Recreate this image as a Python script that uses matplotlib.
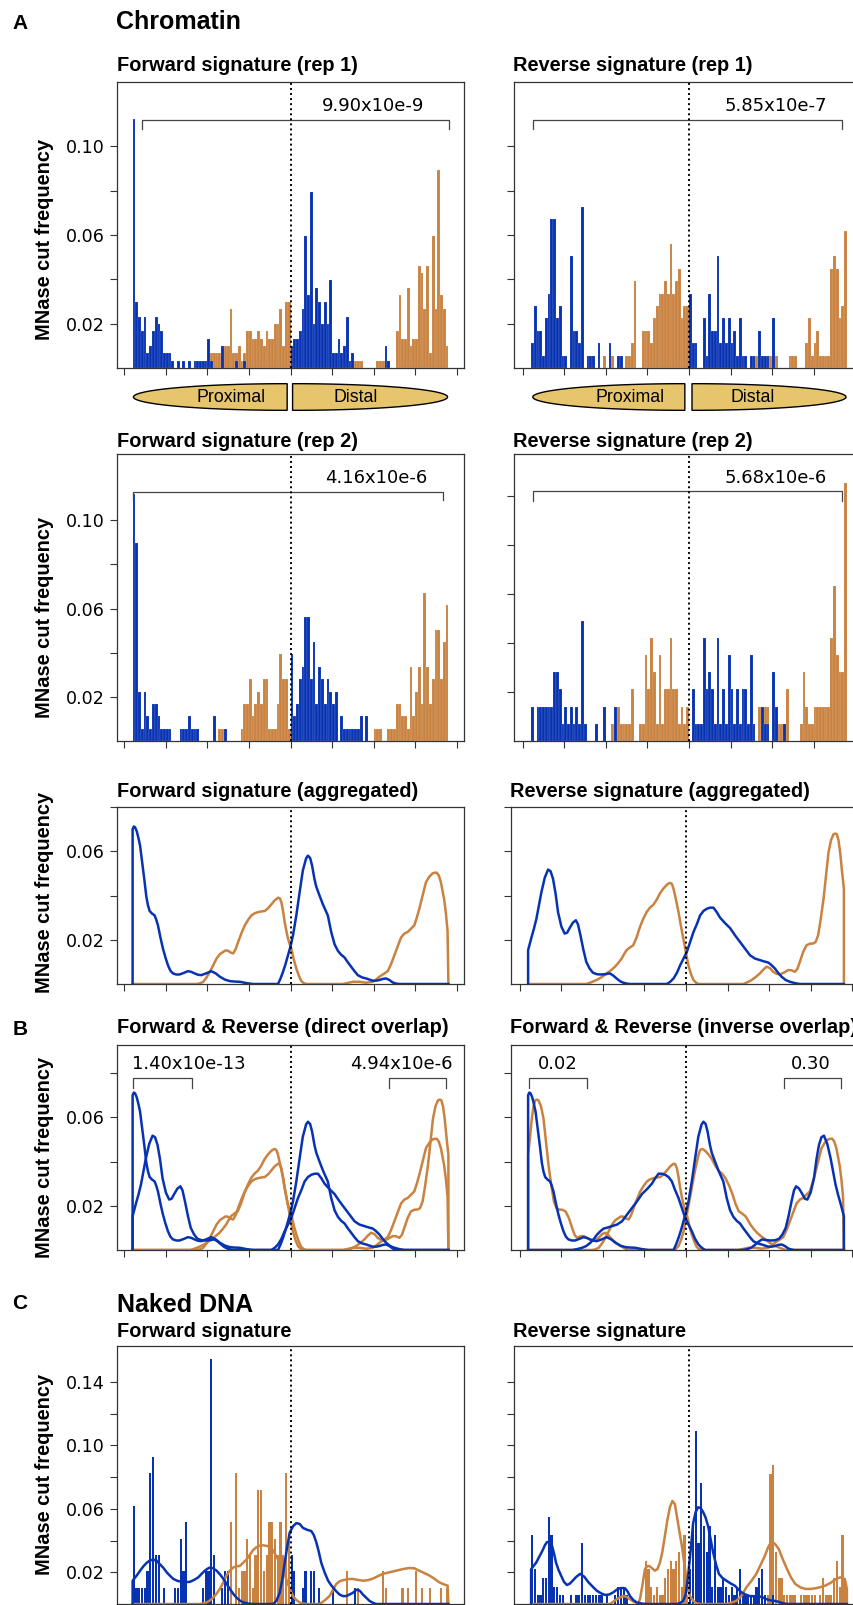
import numpy as np
import matplotlib.pyplot as plt
from matplotlib.patches import Polygon

W, H = 854, 1605
BLUE = '#0733b3'
ORANGE = '#c9823f'
GOLD = '#e6c56c'
PPU = 0.831  # pixels per bp on the x axis

N_BINS = 114
BIN_W = 380 / N_BINS
bin_left = -190 + BIN_W * np.arange(N_BINS)

# ---- Chromatin, bar counts per bin (blue = forward-strand cuts, orange = reverse) ----
UNIT_FWD1 = 0.0033
fwd1_blue = [34, 9, 7, 5, 7, 2, 3, 5, 7, 6, 5, 2, 2, 2, 1, 0, 1, 0, 1,
             0, 1, 0, 1, 1, 1, 1, 1, 4, 1, 0, 0, 0, 3, 0, 0, 0, 0, 1,
             0, 0, 1, 0, 0, 0, 0, 0, 0, 0, 0, 0, 0, 0, 0, 0, 0, 0, 0,
             3, 4, 4, 5, 8, 18, 10, 24, 6, 11, 9, 6, 9, 6, 12, 2, 2, 4, 2,
             3, 7, 1, 2, 0, 0, 0, 0, 0, 0, 0, 0, 0, 0, 0, 3, 1, 0, 0,
             0, 0, 0, 0, 0, 0, 0, 0, 0, 0, 0, 0, 0, 0, 0, 0, 0, 0, 0]
fwd1_orange = [0, 0, 0, 0, 0, 0, 0, 0, 0, 0, 0, 0, 0, 0, 0, 0, 0, 0, 0,
               0, 0, 0, 0, 0, 0, 0, 1, 1, 2, 2, 2, 2, 2, 3, 3, 8, 2, 2,
               3, 1, 2, 5, 5, 4, 4, 5, 4, 3, 5, 4, 4, 6, 6, 8, 3, 9, 9,
               0, 0, 0, 0, 0, 0, 0, 0, 0, 0, 0, 0, 0, 0, 0, 0, 0, 0, 0,
               0, 0, 0, 1, 1, 1, 1, 0, 0, 0, 0, 0, 1, 1, 1, 0, 1, 0, 0,
               5, 10, 4, 4, 11, 3, 4, 4, 14, 13, 8, 14, 2, 18, 8, 27, 10, 8, 3]

UNIT_REV1 = 0.0056
rev1_blue = [2, 5, 3, 3, 1, 4, 6, 12, 12, 4, 5, 1, 1, 0, 9, 3, 3, 2, 13,
             0, 1, 1, 1, 0, 2, 0, 0, 0, 2, 0, 0, 1, 1, 0, 0, 0, 0, 0,
             0, 0, 0, 0, 0, 0, 0, 0, 0, 0, 0, 0, 0, 0, 0, 0, 0, 0, 0,
             6, 2, 2, 0, 0, 4, 1, 6, 3, 3, 9, 2, 4, 2, 4, 2, 3, 1, 4,
             1, 1, 0, 1, 1, 0, 3, 1, 1, 1, 0, 4, 0, 0, 0, 0, 0, 0, 0,
             0, 0, 0, 0, 0, 0, 0, 0, 0, 0, 0, 0, 0, 0, 0, 0, 0, 0, 0]
rev1_orange = [0, 0, 0, 0, 0, 0, 0, 0, 0, 0, 0, 0, 0, 0, 0, 0, 0, 0, 0,
               0, 0, 0, 0, 0, 0, 0, 1, 0, 1, 1, 0, 0, 0, 0, 1, 1, 2, 7,
               0, 0, 3, 3, 3, 2, 4, 5, 6, 6, 7, 6, 10, 6, 7, 8, 4, 5, 5,
               0, 0, 0, 0, 0, 0, 0, 0, 0, 0, 0, 0, 0, 0, 0, 0, 0, 0, 0,
               0, 0, 0, 0, 0, 1, 0, 0, 0, 0, 1, 0, 1, 0, 0, 0, 0, 1, 1,
               1, 0, 0, 0, 2, 4, 1, 2, 3, 1, 1, 1, 1, 8, 9, 8, 4, 5, 11]

UNIT_FWD2 = 0.0056
fwd2_blue = [20, 16, 4, 1, 4, 2, 1, 3, 3, 2, 1, 1, 1, 1, 0, 0, 0, 1, 1,
             1, 2, 1, 1, 1, 0, 0, 0, 0, 0, 2, 0, 0, 0, 1, 0, 0, 0, 0,
             0, 0, 0, 0, 0, 0, 0, 0, 0, 0, 0, 0, 0, 0, 0, 0, 0, 0, 0,
             7, 2, 3, 5, 6, 10, 10, 5, 8, 3, 6, 5, 3, 5, 4, 3, 4, 0, 2,
             1, 1, 1, 1, 1, 1, 2, 0, 2, 0, 0, 0, 0, 0, 0, 0, 0, 0, 0,
             0, 0, 0, 0, 0, 0, 0, 0, 0, 0, 0, 0, 0, 0, 0, 0, 0, 0, 0]
fwd2_orange = [0, 0, 0, 0, 0, 0, 0, 0, 0, 0, 0, 0, 0, 0, 0, 0, 0, 0, 0,
               0, 0, 0, 0, 0, 0, 0, 0, 0, 0, 0, 0, 1, 1, 1, 0, 0, 0, 0,
               0, 1, 3, 3, 5, 2, 3, 4, 3, 5, 5, 1, 1, 1, 3, 7, 5, 5, 1,
               0, 0, 0, 0, 0, 0, 0, 0, 0, 0, 0, 0, 0, 0, 0, 0, 0, 0, 0,
               0, 0, 0, 0, 0, 0, 0, 0, 0, 0, 0, 1, 1, 1, 0, 0, 1, 1, 1,
               3, 3, 2, 2, 1, 6, 2, 4, 6, 3, 12, 6, 3, 5, 9, 9, 5, 8, 11]

UNIT_REV2 = 0.0070
rev2_blue = [2, 0, 2, 2, 2, 2, 2, 2, 4, 4, 3, 1, 2, 1, 2, 1, 2, 1, 7,
             1, 0, 0, 0, 1, 0, 0, 2, 0, 0, 0, 2, 0, 0, 0, 0, 0, 0, 0,
             0, 0, 0, 0, 0, 0, 0, 0, 0, 0, 0, 0, 0, 0, 0, 0, 0, 0, 0,
             0, 3, 1, 1, 1, 6, 3, 4, 3, 1, 6, 1, 3, 1, 5, 3, 1, 3, 1,
             3, 3, 1, 5, 1, 0, 0, 2, 1, 1, 0, 4, 2, 0, 0, 1, 0, 0, 0,
             0, 0, 0, 0, 0, 0, 0, 0, 0, 0, 0, 0, 0, 0, 0, 0, 0, 0, 0]
rev2_orange = [0, 0, 0, 0, 0, 0, 0, 0, 0, 0, 0, 0, 0, 0, 0, 0, 0, 0, 0,
               0, 0, 0, 0, 0, 0, 0, 0, 0, 0, 1, 1, 2, 1, 1, 1, 1, 3, 0,
               0, 1, 1, 5, 3, 6, 4, 1, 5, 1, 3, 3, 6, 3, 3, 1, 2, 1, 2,
               0, 0, 0, 0, 0, 0, 0, 0, 0, 0, 0, 0, 0, 0, 0, 0, 0, 0, 0,
               0, 0, 0, 0, 0, 0, 2, 1, 2, 2, 0, 0, 1, 1, 1, 1, 3, 0, 0,
               0, 0, 1, 4, 2, 1, 1, 2, 2, 2, 2, 2, 2, 6, 9, 5, 4, 4, 15]

# ---- Naked DNA bar counts ----
UNIT_NFWD = 0.0103
nfwd_blue = [6, 1, 1, 1, 1, 2, 8, 9, 3, 3, 0, 1, 0, 0, 0, 1, 1, 4, 2,
             5, 0, 0, 0, 0, 0, 1, 2, 2, 15, 3, 0, 0, 1, 2, 2, 0, 0, 0,
             0, 0, 0, 0, 0, 0, 0, 0, 0, 0, 0, 0, 0, 0, 0, 0, 0, 0, 0,
             3, 2, 0, 0, 1, 2, 0, 2, 2, 0, 1, 0, 0, 0, 0, 1, 0, 0, 0,
             0, 0, 0, 0, 1, 0, 0, 0, 0, 0, 0, 0, 0, 0, 0, 0, 0, 0, 0,
             0, 0, 0, 0, 0, 0, 0, 0, 0, 0, 0, 0, 0, 0, 0, 0, 0, 0, 0]
nfwd_orange = [0, 0, 0, 0, 0, 0, 0, 0, 0, 0, 0, 0, 0, 0, 0, 0, 0, 0, 0,
               0, 0, 0, 0, 0, 0, 0, 0, 0, 0, 0, 0, 0, 1, 2, 2, 5, 0, 8,
               1, 2, 2, 4, 3, 1, 3, 7, 7, 2, 3, 5, 5, 4, 3, 5, 3, 8, 4,
               0, 0, 0, 0, 0, 0, 0, 0, 0, 0, 0, 0, 0, 0, 0, 0, 0, 0, 0,
               0, 2, 0, 0, 0, 1, 0, 0, 0, 0, 0, 0, 0, 0, 2, 1, 0, 0, 0,
               0, 0, 1, 0, 1, 0, 0, 2, 0, 1, 0, 0, 1, 0, 0, 0, 1, 0, 1]

UNIT_NREV = 0.00547
nrev_blue = [8, 4, 1, 1, 3, 3, 10, 8, 2, 2, 1, 1, 0, 0, 1, 0, 1, 1, 7,
             1, 1, 1, 1, 1, 1, 1, 0, 1, 0, 0, 1, 2, 2, 2, 1, 0, 0, 0,
             0, 0, 0, 0, 0, 0, 0, 0, 0, 0, 0, 0, 0, 0, 0, 0, 0, 0, 0,
             4, 9, 20, 7, 14, 9, 6, 9, 2, 8, 2, 2, 3, 2, 1, 2, 1, 2, 4,
             1, 1, 1, 1, 1, 2, 3, 4, 1, 0, 0, 1, 0, 0, 0, 0, 0, 0, 0,
             0, 0, 0, 0, 0, 0, 0, 0, 0, 0, 0, 0, 0, 0, 0, 0, 0, 0, 0]
nrev_orange = [0, 0, 0, 0, 0, 0, 0, 0, 0, 0, 0, 0, 0, 0, 0, 0, 0, 0, 0,
               0, 0, 0, 0, 0, 0, 0, 0, 0, 0, 0, 0, 0, 0, 0, 0, 0, 0, 0,
               0, 0, 0, 5, 4, 2, 1, 2, 1, 1, 3, 4, 5, 4, 5, 6, 2, 8, 1,
               0, 0, 0, 0, 0, 0, 0, 0, 0, 0, 0, 0, 0, 0, 0, 0, 0, 0, 0,
               0, 0, 0, 0, 0, 1, 0, 0, 1, 1, 15, 16, 6, 3, 3, 1, 1, 1, 1,
               1, 0, 1, 1, 1, 1, 1, 1, 0, 1, 3, 1, 1, 1, 3, 5, 2, 8, 3]

# ---- aggregated density curves (position, frequency) ----
fb_x = [-190, -190, -188.5, -187, -185, -183, -181, -179.5, -177.5, -175.5, -173.5, -171.5,
        -169.5, -166.5, -163.5, -161.5, -159.5, -156.5, -153.5, -150.5, -147.5, -144.5,
        -141.5, -137.5, -133.5, -128.5, -123.5, -119.5, -115.5, -111.5, -107.5, -101.5,
        -95.5, -90, -85, -79, -73, -67, -61, -53, -45, -15, -12, -9, -6, -3, 0, 3, 7, 11,
        14.8, 18.8, 21, 23.6, 26, 28.8, 31, 34.9, 39, 44.9, 49, 53, 57, 61, 65, 69, 73, 77,
        81, 86, 91, 95, 99, 103, 107, 111, 115, 119, 123, 127, 131, 190]
fb_y = [0, 0.070, 0.0712, 0.0708, 0.069, 0.066, 0.0625, 0.058, 0.052, 0.046, 0.0395, 0.0355,
        0.033, 0.0318, 0.031, 0.029, 0.0265, 0.021, 0.016, 0.012, 0.0085, 0.006, 0.0048,
        0.0043, 0.0043, 0.005, 0.0058, 0.0055, 0.0048, 0.0042, 0.004, 0.0048, 0.0058, 0.0048,
        0.0033, 0.002, 0.0013, 0.0011, 0.001, 0.0004, 0, 0, 0.0025, 0.0055, 0.009, 0.013,
        0.017, 0.022, 0.031, 0.0415, 0.0512, 0.0568, 0.058, 0.057, 0.0535, 0.0475, 0.044,
        0.040, 0.036, 0.031, 0.0235, 0.018, 0.015, 0.0132, 0.012, 0.0098, 0.0078, 0.0058,
        0.004, 0.003, 0.0025, 0.002, 0.0015, 0.0015, 0.0018, 0.0023, 0.0025, 0.0018, 0.0007,
        0.0002, 0, 0]
fo_x = [-190, -113, -109, -105, -101, -97, -93, -89, -85, -81, -78, -75, -72, -69, -66, -63,
        -59, -55, -51, -47, -43, -39, -35, -31, -27, -23, -19, -15, -13, -11, -9, -7, -5,
        -3, -1, 1, 4, 7, 10, 13, 16, 19, 63, 75, 83, 91, 99, 103, 107, 112, 117, 121, 125,
        129, 133, 137, 141, 145, 149, 152, 155, 159, 163, 167, 171, 173.5, 176, 178.5, 181,
        183, 185, 187, 189, 190]
fo_y = [0, 0, 0.0003, 0.001, 0.003, 0.0055, 0.0085, 0.0115, 0.0135, 0.0145, 0.0152, 0.015,
        0.0142, 0.0138, 0.0158, 0.019, 0.023, 0.0265, 0.029, 0.031, 0.032, 0.0325, 0.0328,
        0.033, 0.0342, 0.036, 0.0378, 0.039, 0.0388, 0.037, 0.033, 0.028, 0.024, 0.0205,
        0.018, 0.016, 0.011, 0.007, 0.0038, 0.0013, 0.0004, 0, 0, 0.001, 0.001, 0.0006, 0.001,
        0.002, 0.0033, 0.0045, 0.0058, 0.009, 0.013, 0.017, 0.021, 0.0228, 0.0235, 0.025,
        0.0265, 0.030, 0.034, 0.040, 0.046, 0.0485, 0.050, 0.0503, 0.0503, 0.049, 0.046,
        0.042, 0.038, 0.032, 0.024, 0]
rb_x = [-190, -190, -186, -183, -180, -177, -174, -170, -166, -163, -160, -157, -154, -150,
        -146, -143, -140, -136, -132.5, -130, -127, -123.5, -120, -116, -112, -107, -101.6,
        -96, -91.6, -87.5, -83.5, -79.5, -75.5, -71.5, -67.5, -23, -19, -15, -11, -7, -3, 1,
        5, 9, 13, 17, 21, 25, 29, 33, 37, 41, 47, 53, 59, 65, 71, 77, 83, 89, 94, 99, 103,
        107, 111, 115, 120, 125, 131, 137, 190]
rb_y = [0, 0.0153, 0.021, 0.025, 0.0295, 0.0355, 0.0415, 0.048, 0.0517, 0.051, 0.0475, 0.041,
        0.0325, 0.026, 0.0228, 0.0232, 0.0253, 0.0278, 0.0288, 0.027, 0.022, 0.0155, 0.010,
        0.007, 0.0051, 0.0044, 0.0043, 0.0045, 0.0048, 0.0038, 0.0025, 0.0013, 0.0006, 0.0002,
        0, 0, 0.001, 0.0025, 0.005, 0.0085, 0.0115, 0.0145, 0.019, 0.0235, 0.027, 0.031,
        0.033, 0.034, 0.0345, 0.0345, 0.0325, 0.030, 0.0275, 0.0253, 0.022, 0.019, 0.016,
        0.013, 0.0115, 0.0108, 0.0102, 0.0097, 0.0085, 0.007, 0.005, 0.0033, 0.0018, 0.001,
        0.0004, 0, 0]
ro_x = [-190, -120, -114, -107.6, -101, -95.6, -90, -85.5, -81.5, -77.5, -74.5, -71.5,
        -67.5, -63.5, -59.5, -55.4, -51.4, -47.4, -43.4, -39.4, -35.4, -31.3, -27.5, -24,
        -21.5, -19, -17, -15, -12, -9, -6, -3.2, 0, 2.8, 6, 9, 12, 15, 69, 74, 79, 84, 89,
        93, 97, 101, 105, 109, 113, 118, 123, 127, 131, 134, 137, 141, 145, 149, 153, 156,
        159, 162, 165.5, 168.5, 171.5, 174.5, 177.5, 179.5, 181.5, 183.5, 185.5, 188, 190, 190]
ro_y = [0, 0, 0.0008, 0.0018, 0.0032, 0.0048, 0.0063, 0.0078, 0.0095, 0.0115, 0.0135,
        0.0153, 0.0165, 0.0175, 0.021, 0.0258, 0.0295, 0.0325, 0.0345, 0.0358, 0.038, 0.041,
        0.043, 0.0445, 0.0453, 0.0457, 0.0452, 0.043, 0.038, 0.0325, 0.026, 0.0205, 0.014,
        0.0085, 0.0045, 0.0018, 0.0006, 0, 0, 0.0008, 0.0018, 0.0032, 0.0048, 0.0065, 0.0078,
        0.0072, 0.0055, 0.0046, 0.0043, 0.0052, 0.0063, 0.0062, 0.0055, 0.0068, 0.010, 0.0145,
        0.0175, 0.0182, 0.0183, 0.019, 0.022, 0.029, 0.0385, 0.049, 0.0595, 0.065, 0.0677,
        0.068, 0.0677, 0.065, 0.0595, 0.050, 0.043, 0]

# naked DNA density curves
nfb_x = [-190, -190, -185, -181, -177, -173, -169, -165, -161, -157, -153, -149, -145, -141,
         -136, -131, -126, -121, -116, -111, -107, -103, -100, -97, -93, -89, -85, -81, -77,
         -73, -69, -65, -61, -57, -51, -45, -21, -17, -13, -10, -7, -4, -1, 3, 7, 11, 15, 20,
         25, 28, 31, 34, 37, 41, 45, 48, 51, 55, 59, 63, 67, 71, 75, 78, 81, 84, 87, 91, 95,
         99, 103, 190]
nfb_y = [0, 0.0147, 0.018, 0.021, 0.0238, 0.026, 0.0275, 0.028, 0.0272, 0.025, 0.0228, 0.020,
         0.0178, 0.0158, 0.0146, 0.014, 0.0138, 0.014, 0.0152, 0.0168, 0.019, 0.021, 0.0222,
         0.023, 0.0225, 0.021, 0.0188, 0.016, 0.0128, 0.0095, 0.0065, 0.004, 0.0022, 0.001,
         0.0003, 0, 0, 0.002, 0.007, 0.015, 0.026, 0.036, 0.045, 0.049, 0.051, 0.0505, 0.048,
         0.0468, 0.046, 0.0435, 0.039, 0.033, 0.026, 0.020, 0.015, 0.0125, 0.0105, 0.008,
         0.006, 0.005, 0.005, 0.006, 0.007, 0.0085, 0.009, 0.008, 0.006, 0.004, 0.002, 0.0008,
         0, 0]
nfo_x = [-190, -109, -105, -101, -97, -93, -89, -85, -81, -77, -73, -69, -65, -61, -57, -53,
         -49, -45, -41, -37, -33, -29, -25, -21, -17, -13, -9, -6, -3, 0, 3, 7, 11, 15, 19,
         35, 41, 47, 51, 55, 59, 63, 69, 75, 81, 87, 93, 99, 105, 111, 119, 127, 135, 143,
         149, 155, 161, 167, 173, 179, 184, 189, 190]
nfo_y = [0, 0, 0.0004, 0.001, 0.0022, 0.004, 0.0065, 0.0095, 0.0135, 0.018, 0.021, 0.023,
         0.0238, 0.024, 0.026, 0.028, 0.031, 0.034, 0.0358, 0.0368, 0.037, 0.0367, 0.036,
         0.0338, 0.030, 0.026, 0.022, 0.017, 0.0126, 0.0085, 0.005, 0.0025, 0.001, 0.0003, 0,
         0, 0.0022, 0.005, 0.0088, 0.0126, 0.0143, 0.015, 0.0157, 0.0158, 0.0152, 0.0147,
         0.015, 0.016, 0.0175, 0.019, 0.020, 0.021, 0.022, 0.0227, 0.0225, 0.021, 0.0195, 0.018,
         0.016, 0.0137, 0.0125, 0.0116, 0]
nrb_x = [-190, -190, -187, -184, -180, -176, -173.5, -171, -168, -165, -162.5, -160, -157,
         -154, -150.5, -147, -143.5, -140, -135.5, -131, -126, -121, -116, -111, -106, -101,
         -96, -91, -87, -83, -80, -77, -74, -71, -67, -63, -57, -51, -15, -11, -7, -4, -1, 2,
         5, 8, 11, 14, 17, 20, 23, 26, 29, 32.5, 36, 40, 45, 50, 55, 59, 63, 68, 73, 79, 85,
         90, 95, 99, 103, 107, 111, 116, 121, 190]
nrb_y = [0, 0.022, 0.024, 0.026, 0.030, 0.034, 0.037, 0.039, 0.0392, 0.037, 0.032, 0.026,
         0.0215, 0.018, 0.014, 0.012, 0.0128, 0.0147, 0.0172, 0.019, 0.0172, 0.0137, 0.011,
         0.0084, 0.0068, 0.0057, 0.006, 0.0074, 0.009, 0.0099, 0.0101, 0.0099, 0.008, 0.005,
         0.0025, 0.001, 0.0003, 0, 0, 0.0006, 0.002, 0.006, 0.018, 0.034, 0.051, 0.058, 0.061,
         0.0605, 0.058, 0.0545, 0.049, 0.041, 0.0326, 0.025, 0.019, 0.0165, 0.0147, 0.013,
         0.0116, 0.0095, 0.0074, 0.006, 0.005, 0.0049, 0.0048, 0.0038, 0.0027, 0.0022, 0.002,
         0.0015, 0.0008, 0.0002, 0, 0]
nro_x = [-190, -95, -91, -87, -83, -79, -75, -71, -67, -63, -61, -59, -56, -53, -50.5, -48,
         -45, -41, -38, -35, -32, -29, -26, -23, -20, -17, -14, -11, -8, -5, -2, 1, 5, 9, 13,
         45, 51, 57, 63, 69, 75, 81, 86, 91, 95, 98, 101, 104, 108, 113, 118, 123, 128, 134,
         140, 146, 152, 158, 164, 170, 174, 178, 182, 186, 188, 190, 190]
nro_y = [0, 0, 0.0015, 0.003, 0.0042, 0.005, 0.0045, 0.003, 0.0015, 0.0008, 0.001, 0.003,
         0.012, 0.022, 0.0238, 0.024, 0.0228, 0.021, 0.022, 0.026, 0.033, 0.043, 0.053, 0.061,
         0.065, 0.063, 0.0535, 0.044, 0.0347, 0.023, 0.0116, 0.005, 0.002, 0.0005, 0, 0,
         0.0008, 0.002, 0.005, 0.0105, 0.0145, 0.019, 0.0245, 0.030, 0.0355, 0.0385, 0.039,
         0.0375, 0.0347, 0.028, 0.022, 0.0165, 0.0126, 0.0105, 0.0095, 0.0095, 0.0099, 0.0106,
         0.0116, 0.0132, 0.0147, 0.016, 0.0168, 0.0162, 0.0147, 0.0095, 0]

fig = plt.figure(figsize=(W / 100, H / 100), dpi=100)
BOLD = dict(family='Liberation Sans', weight='bold')


def add_ax(left, top, right, bottom, center):
    ax = fig.add_axes([left / W, 1 - bottom / H, (right - left) / W, (bottom - top) / H])
    ax.set_xlim((left - center) / PPU, (right - center) / PPU)
    return ax


def style(ax, ytop, ticks, labels):
    ax.set_ylim(0, ytop)
    ax.set_yticks(ticks)
    ax.set_yticklabels(labels if labels else [''] * len(ticks))
    ax.set_xticks(np.arange(-200, 201, 50))
    ax.set_xticklabels([])
    ax.tick_params(direction='out', length=5, width=0.8, color='#333333',
                   labelsize=12.6, pad=4)
    for s in ax.spines.values():
        s.set_color('#333333')
        s.set_linewidth(0.9)
    ax.axvline(0, color='black', ls=(0, (1, 1.6)), lw=1.4, zorder=5)


def bars(ax, blue, orange, ub, uo, frac=1.0, seam=True):
    kw = dict(width=BIN_W * frac, align='edge')
    if seam:
        kw.update(linewidth=0.3, edgecolor=(1, 1, 1, 0.3))
    else:
        kw.update(linewidth=0)
    ax.bar(bin_left, np.array(orange) * uo, color=ORANGE, **kw)
    ax.bar(bin_left, np.array(blue) * ub, color=BLUE, **kw)


def bracket(ax, x0, x1, y, drop):
    ax.plot([x0, x0, x1, x1], [y - drop, y, y, y - drop], color='#444444', lw=0.9,
            clip_on=False)


def halves(left, top, right, bottom, center, segs):
    ax = add_ax(left, top, right, bottom, center)
    ax.set_ylim(-1.05, 1.05)
    ax.axis('off')
    t = np.linspace(0, np.pi, 80)
    for x_tip, x_flat, label, xl in segs:
        a = x_flat - x_tip
        xs = x_flat - a * np.sin(t)
        ys = np.cos(t)
        ax.add_patch(Polygon(np.column_stack([xs, ys]), closed=True, facecolor=GOLD,
                             edgecolor='black', lw=1.0))
        ax.text(xl, 0, label, ha='center', va='center', fontsize=12.8,
                family='Liberation Sans')


ROWS = [(82, 368), (454, 741), (807, 984), (1045, 1250), (1346, 1604)]
RIGHT_C = [689, 689, 686, 686, 689]
LX = (117, 464, 290.5)

t1 = np.arange(0.02, 0.101, 0.02)
lab1 = ['0.02', '', '0.06', '', '0.10']
t3 = np.arange(0.02, 0.081, 0.02)
lab3 = ['0.02', '', '0.06', '']
t5 = np.arange(0.02, 0.141, 0.02)
lab5 = ['0.02', '', '0.06', '', '0.10', '', '0.14']

axes = []
for r, (top, bot) in enumerate(ROWS):
    c = RIGHT_C[r]
    axl = add_ax(LX[0], top, LX[1], bot, LX[2])
    axr = add_ax(c - 175, top, c + 175, bot, c)
    axes.append((axl, axr))

# row 1
a, b = axes[0]
bars(a, fwd1_blue, fwd1_orange, UNIT_FWD1, UNIT_FWD1)
bars(b, rev1_blue, rev1_orange, UNIT_REV1, UNIT_REV1)
style(a, 0.129, t1, lab1)
style(b, 0.129, t1, None)
bracket(a, -179, 191, 0.112, 0.004)
a.text(99, 0.118, '9.90x10e-9', ha='center', va='center', fontsize=13)
bracket(b, -188, 184, 0.112, 0.004)
b.text(104, 0.118, '5.85x10e-7', ha='center', va='center', fontsize=13)

# row 2
a, b = axes[1]
bars(a, fwd2_blue, fwd2_orange, UNIT_FWD2, UNIT_FWD2)
bars(b, rev2_blue, rev2_orange, UNIT_REV2, UNIT_REV2)
style(a, 0.130, t1, lab1)
style(b, 0.117, t1, None)
bracket(a, -189, 183, 0.113, 0.004)
a.text(103, 0.119, '4.16x10e-6', ha='center', va='center', fontsize=13)
bracket(b, -188, 184, 0.102, 0.004)
b.text(104, 0.1073, '5.68x10e-6', ha='center', va='center', fontsize=13)

# row 3: aggregated
LW = 1.8
a, b = axes[2]
a.plot(fo_x, fo_y, color=ORANGE, lw=LW)
a.plot(fb_x, fb_y, color=BLUE, lw=LW)
b.plot(ro_x, ro_y, color=ORANGE, lw=LW)
b.plot(rb_x, rb_y, color=BLUE, lw=LW)
style(a, 0.080, t3, lab3)
style(b, 0.080, t3, None)

# row 4: overlaps
a, b = axes[3]
for xs, ys, col in [(fo_x, fo_y, ORANGE), (ro_x, ro_y, ORANGE),
                    (fb_x, fb_y, BLUE), (rb_x, rb_y, BLUE)]:
    a.plot(xs, ys, color=col, lw=LW)
for xs, ys, col in [(fo_x, fo_y, ORANGE), (-np.array(ro_x), ro_y, ORANGE),
                    (fb_x, fb_y, BLUE), (-np.array(rb_x), rb_y, BLUE)]:
    b.plot(xs, ys, color=col, lw=LW)
style(a, 0.0927, t3, lab3)
style(b, 0.0927, t3, None)
bracket(a, -190, -119, 0.0777, 0.0045)
bracket(a, 118, 187.5, 0.0777, 0.0045)
a.text(-190.5, 0.084, '1.40x10e-13', ha='left', va='center', fontsize=13)
a.text(133, 0.084, '4.94x10e-6', ha='center', va='center', fontsize=13)
bracket(b, -189, -119, 0.0777, 0.0045)
bracket(b, 118, 187, 0.0777, 0.0045)
b.text(-154, 0.084, '0.02', ha='center', va='center', fontsize=13)
b.text(150, 0.084, '0.30', ha='center', va='center', fontsize=13)

# row 5: naked DNA
a, b = axes[4]
bars(a, nfwd_blue, nfwd_orange, UNIT_NFWD, UNIT_NFWD, frac=0.8, seam=False)
bars(b, nrev_blue, nrev_orange, UNIT_NREV, UNIT_NREV, frac=0.8, seam=False)
a.plot(nfo_x, nfo_y, color=ORANGE, lw=LW)
a.plot(nfb_x, nfb_y, color=BLUE, lw=LW)
b.plot(nro_x, nro_y, color=ORANGE, lw=LW)
b.plot(nrb_x, nrb_y, color=BLUE, lw=LW)
style(a, 0.1627, t5, lab5)
style(b, 0.1627, t5, None)

# nucleosome ellipses under row 1
halves(LX[0], 383, LX[1], 411, LX[2],
       [(-189, -4, 'Proximal', -71), (189, 2.5, 'Distal', 78)])
halves(RIGHT_C[0] - 175, 383, RIGHT_C[0] + 175, 411, RIGHT_C[0],
       [(-188, -5, 'Proximal', -71), (189, 3.6, 'Distal', 77)])


def ftext(x, y, s, **kw):
    fig.text(x / W, 1 - y / H, s, **kw)


ftext(12, 29.3, 'A', fontsize=15, va='baseline', **BOLD)
ftext(116, 29.3, 'Chromatin', fontsize=18, va='baseline', **BOLD)
ftext(13, 1035, 'B', fontsize=15, va='baseline', **BOLD)
ftext(12, 1309, 'C', fontsize=15, va='baseline', **BOLD)
ftext(117, 1311.7, 'Naked DNA', fontsize=18, va='baseline', **BOLD)

titles = [('Forward signature (rep 1)', 'Reverse signature (rep 1)', 71, 513),
          ('Forward signature (rep 2)', 'Reverse signature (rep 2)', 447, 513),
          ('Forward signature (aggregated)', 'Reverse signature (aggregated)', 797, 510),
          ('Forward & Reverse (direct overlap)', 'Forward & Reverse (inverse overlap)', 1033, 510),
          ('Forward signature', 'Reverse signature', 1337, 513)]
for lt, rt, y, xr in titles:
    ftext(117, y, lt, fontsize=14.4, va='baseline', **BOLD)
    ftext(xr, y, rt, fontsize=14.4, va='baseline', **BOLD)

for y in [239, 617, 892, 1157, 1474]:
    ftext(45, y, 'MNase cut frequency', fontsize=14.4, rotation=90, ha='center',
          va='center', **BOLD)

fig.savefig('out.png', dpi=100)
